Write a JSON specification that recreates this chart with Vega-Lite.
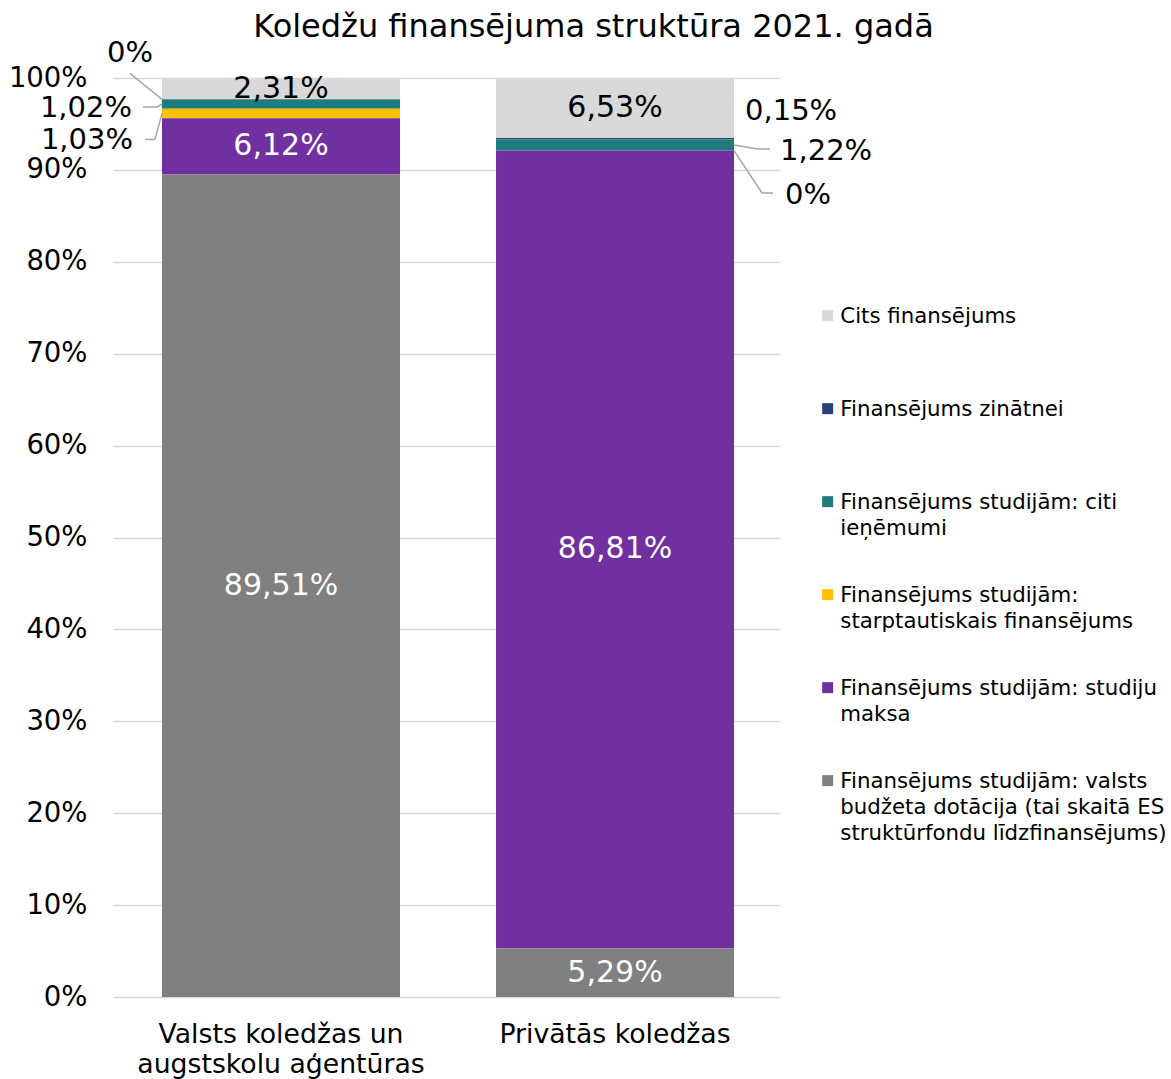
{
  "$schema": "https://vega.github.io/schema/vega-lite/v6.json",
  "width": 667,
  "height": 919,
  "autosize": {"type": "none"},
  "padding": {"left": 113, "top": 78, "right": 391, "bottom": 82},
  "background": "white",
  "title": {"text": "Koledžu finansējuma struktūra 2021. gadā", "fontSize": 32, "font": "DejaVu Sans", "fontWeight": "normal", "color": "#000000", "anchor": "middle", "frame": "group", "dx": 147, "dy": 13, "offset": 8},
  "data": {
    "values": [
      {"group": "Valsts koledžas un augstskolu aģentūras", "cat": "Cits finansējums", "value": 0.0231},
      {"group": "Valsts koledžas un augstskolu aģentūras", "cat": "Finansējums zinātnei", "value": 0},
      {"group": "Valsts koledžas un augstskolu aģentūras", "cat": "Finansējums studijām: citi ieņēmumi", "value": 0.0102},
      {"group": "Valsts koledžas un augstskolu aģentūras", "cat": "Finansējums studijām: starptautiskais finansējums", "value": 0.0103},
      {"group": "Valsts koledžas un augstskolu aģentūras", "cat": "Finansējums studijām: studiju maksa", "value": 0.0612},
      {"group": "Valsts koledžas un augstskolu aģentūras", "cat": "Finansējums studijām: valsts budžeta dotācija (tai skaitā ES struktūrfondu līdzfinansējums)", "value": 0.8951},
      {"group": "Privātās koledžas", "cat": "Cits finansējums", "value": 0.0653},
      {"group": "Privātās koledžas", "cat": "Finansējums zinātnei", "value": 0.0015},
      {"group": "Privātās koledžas", "cat": "Finansējums studijām: citi ieņēmumi", "value": 0.0122},
      {"group": "Privātās koledžas", "cat": "Finansējums studijām: starptautiskais finansējums", "value": 0},
      {"group": "Privātās koledžas", "cat": "Finansējums studijām: studiju maksa", "value": 0.8681},
      {"group": "Privātās koledžas", "cat": "Finansējums studijām: valsts budžeta dotācija (tai skaitā ES struktūrfondu līdzfinansējums)", "value": 0.0529}
    ]
  },
  "transform": [
    {"calculate": "indexof(['Cits finansējums', 'Finansējums zinātnei', 'Finansējums studijām: citi ieņēmumi', 'Finansējums studijām: starptautiskais finansējums', 'Finansējums studijām: studiju maksa', 'Finansējums studijām: valsts budžeta dotācija (tai skaitā ES struktūrfondu līdzfinansējums)'], datum.cat)", "as": "ord"},
    {"stack": "value", "groupby": ["group"], "sort": [{"field": "ord", "order": "descending"}], "as": ["y0", "y1"]},
    {"calculate": "(datum.y0 + datum.y1) / 2", "as": "mid"}
  ],
  "encoding": {
    "x": {
      "field": "group", "type": "nominal", "sort": null, "title": null,
      "scale": {"paddingInner": 0.2874, "paddingOuter": 0.1422, "align": 0.516},
      "axis": {
        "domain": false, "ticks": false, "tickSize": 0, "labelAngle": 0,
        "labelFont": "DejaVu Sans", "labelFontSize": 26.7, "labelColor": "#000000",
        "labelLineHeight": 30, "labelPadding": 24, "labelLimit": 600, "labelBaseline": "top",
        "labelExpr": "datum.label == 'Valsts koledžas un augstskolu aģentūras' ? ['Valsts koledžas un', 'augstskolu aģentūras'] : datum.label"
      }
    }
  },
  "layer": [
    {
      "mark": {"type": "bar"},
      "encoding": {
        "y": {
          "field": "y1", "type": "quantitative", "title": null,
          "scale": {"domain": [0, 1]},
          "axis": {
            "values": [0, 0.1, 0.2, 0.3, 0.4, 0.5, 0.6, 0.7, 0.8, 0.9, 1],
            "format": ".0%", "domain": false, "ticks": false, "tickSize": 0,
            "labelFont": "DejaVu Sans", "labelFontSize": 27.5, "labelColor": "#000000", "labelPadding": 26,
            "grid": true, "gridColor": "#D9D9D9", "gridWidth": 1.3
          }
        },
        "y2": {"field": "y0"},
        "color": {
          "field": "cat", "type": "nominal",
          "scale": {
            "domain": ["Cits finansējums", "Finansējums zinātnei", "Finansējums studijām: citi ieņēmumi", "Finansējums studijām: starptautiskais finansējums", "Finansējums studijām: studiju maksa", "Finansējums studijām: valsts budžeta dotācija (tai skaitā ES struktūrfondu līdzfinansējums)"],
            "range": ["#D9D9D9", "#264478", "#1E7B7E", "#FFC000", "#7030A0", "#808080"]
          },
          "legend": {
            "orient": "none", "legendX": 704, "legendY": 227, "title": null, "padding": 0,
            "symbolType": "square", "symbolSize": 121, "symbolStrokeWidth": 0,
            "labelFont": "DejaVu Sans", "labelFontSize": 21.3, "labelColor": "#000000",
            "labelLimit": 600, "labelOffset": 2, "labelBaseline": "alphabetic", "rowPadding": 19,
            "labelExpr": "datum.label == 'Finansējums studijām: citi ieņēmumi' ? ['Finansējums studijām: citi', 'ieņēmumi', ''] : datum.label == 'Finansējums studijām: starptautiskais finansējums' ? ['Finansējums studijām:', 'starptautiskais finansējums', ''] : datum.label == 'Finansējums studijām: studiju maksa' ? ['Finansējums studijām: studiju', 'maksa', ''] : datum.label == 'Finansējums studijām: valsts budžeta dotācija (tai skaitā ES struktūrfondu līdzfinansējums)' ? ['Finansējums studijām: valsts', 'budžeta dotācija (tai skaitā ES', 'struktūrfondu līdzfinansējums)'] : [datum.label, '', '']",
            "encoding": {"labels": {"dy": {"value": 7}, "lineHeight": {"value": 26}}}
          }
        }
      }
    },
    {
      "transform": [{"filter": "datum.ord >= 4"}],
      "mark": {"type": "text", "font": "DejaVu Sans", "fontSize": 30, "color": "#FFFFFF", "align": "center", "baseline": "middle"},
      "encoding": {"y": {"field": "mid", "type": "quantitative", "title": null}, "text": {"field": "value", "type": "quantitative", "format": ".2~%"}}
    },
    {
      "transform": [{"filter": "datum.ord == 0"}],
      "mark": {"type": "text", "font": "DejaVu Sans", "fontSize": 30, "color": "#000000", "align": "center", "baseline": "middle"},
      "encoding": {"y": {"field": "mid", "type": "quantitative", "title": null}, "text": {"field": "value", "type": "quantitative", "format": ".2~%"}}
    },
    {
      "transform": [{"filter": "datum.group != 'Privātās koledžas' && datum.ord == 1"}],
      "mark": {"type": "text", "font": "DejaVu Sans", "fontSize": 29, "color": "#000000", "align": "center", "baseline": "middle", "dx": -151, "dy": -46},
      "encoding": {"y": {"field": "mid", "type": "quantitative", "title": null}, "text": {"field": "value", "type": "quantitative", "format": ".2~%"}}
    },
    {
      "transform": [{"filter": "datum.group != 'Privātās koledžas' && datum.ord == 2"}],
      "mark": {"type": "text", "font": "DejaVu Sans", "fontSize": 29, "color": "#000000", "align": "right", "baseline": "middle", "dx": -149, "dy": 3.5},
      "encoding": {"y": {"field": "mid", "type": "quantitative", "title": null}, "text": {"field": "value", "type": "quantitative", "format": ".2~%"}}
    },
    {
      "transform": [{"filter": "datum.group != 'Privātās koledžas' && datum.ord == 3"}],
      "mark": {"type": "text", "font": "DejaVu Sans", "fontSize": 29, "color": "#000000", "align": "right", "baseline": "middle", "dx": -148, "dy": 27},
      "encoding": {"y": {"field": "mid", "type": "quantitative", "title": null}, "text": {"field": "value", "type": "quantitative", "format": ".2~%"}}
    },
    {
      "transform": [{"filter": "datum.group == 'Privātās koledžas' && datum.ord == 1"}],
      "mark": {"type": "text", "font": "DejaVu Sans", "fontSize": 29, "color": "#000000", "align": "left", "baseline": "middle", "dx": 130, "dy": -28},
      "encoding": {"y": {"field": "mid", "type": "quantitative", "title": null}, "text": {"field": "value", "type": "quantitative", "format": ".2~%"}}
    },
    {
      "transform": [{"filter": "datum.group == 'Privātās koledžas' && datum.ord == 2"}],
      "mark": {"type": "text", "font": "DejaVu Sans", "fontSize": 29, "color": "#000000", "align": "left", "baseline": "middle", "dx": 165, "dy": 6},
      "encoding": {"y": {"field": "mid", "type": "quantitative", "title": null}, "text": {"field": "value", "type": "quantitative", "format": ".2~%"}}
    },
    {
      "transform": [{"filter": "datum.group == 'Privātās koledžas' && datum.ord == 3"}],
      "mark": {"type": "text", "font": "DejaVu Sans", "fontSize": 29, "color": "#000000", "align": "left", "baseline": "middle", "dx": 170, "dy": 44},
      "encoding": {"y": {"field": "mid", "type": "quantitative", "title": null}, "text": {"field": "value", "type": "quantitative", "format": ".2~%"}}
    },
    {
      "transform": [{"filter": "datum.group != 'Privātās koledžas' && datum.ord == 1"}],
      "mark": {"type": "rule", "color": "#A6A6A6", "strokeWidth": 1.5, "xOffset": -119, "x2Offset": -151, "y2Offset": -26},
      "encoding": {"x2": {"field": "group"}, "y": {"field": "mid", "type": "quantitative", "title": null}, "y2": {"field": "mid"}}
    },
    {
      "transform": [{"filter": "datum.group != 'Privātās koledžas' && datum.ord == 2"}],
      "mark": {"type": "rule", "color": "#A6A6A6", "strokeWidth": 1.5, "xOffset": -119, "x2Offset": -124, "y2Offset": 3},
      "encoding": {"x2": {"field": "group"}, "y": {"field": "mid", "type": "quantitative", "title": null}, "y2": {"field": "mid"}}
    },
    {
      "transform": [{"filter": "datum.group != 'Privātās koledžas' && datum.ord == 2"}],
      "mark": {"type": "rule", "color": "#A6A6A6", "strokeWidth": 1.5, "xOffset": -124, "x2Offset": -138, "yOffset": 3, "y2Offset": 3},
      "encoding": {"x2": {"field": "group"}, "y": {"field": "mid", "type": "quantitative", "title": null}, "y2": {"field": "mid"}}
    },
    {
      "transform": [{"filter": "datum.group != 'Privātās koledžas' && datum.ord == 3"}],
      "mark": {"type": "rule", "color": "#A6A6A6", "strokeWidth": 1.5, "xOffset": -119, "x2Offset": -126, "y2Offset": 26},
      "encoding": {"x2": {"field": "group"}, "y": {"field": "mid", "type": "quantitative", "title": null}, "y2": {"field": "mid"}}
    },
    {
      "transform": [{"filter": "datum.group != 'Privātās koledžas' && datum.ord == 3"}],
      "mark": {"type": "rule", "color": "#A6A6A6", "strokeWidth": 1.5, "xOffset": -126, "x2Offset": -136, "yOffset": 26, "y2Offset": 26},
      "encoding": {"x2": {"field": "group"}, "y": {"field": "mid", "type": "quantitative", "title": null}, "y2": {"field": "mid"}}
    },
    {
      "transform": [{"filter": "datum.group == 'Privātās koledžas' && datum.ord == 2"}],
      "mark": {"type": "rule", "color": "#A6A6A6", "strokeWidth": 1.5, "xOffset": 119, "x2Offset": 143, "y2Offset": 4},
      "encoding": {"x2": {"field": "group"}, "y": {"field": "mid", "type": "quantitative", "title": null}, "y2": {"field": "mid"}}
    },
    {
      "transform": [{"filter": "datum.group == 'Privātās koledžas' && datum.ord == 2"}],
      "mark": {"type": "rule", "color": "#A6A6A6", "strokeWidth": 1.5, "xOffset": 143, "x2Offset": 155, "yOffset": 4, "y2Offset": 4},
      "encoding": {"x2": {"field": "group"}, "y": {"field": "mid", "type": "quantitative", "title": null}, "y2": {"field": "mid"}}
    },
    {
      "transform": [{"filter": "datum.group == 'Privātās koledžas' && datum.ord == 3"}],
      "mark": {"type": "rule", "color": "#A6A6A6", "strokeWidth": 1.5, "xOffset": 119, "x2Offset": 147, "y2Offset": 42.4},
      "encoding": {"x2": {"field": "group"}, "y": {"field": "mid", "type": "quantitative", "title": null}, "y2": {"field": "mid"}}
    },
    {
      "transform": [{"filter": "datum.group == 'Privātās koledžas' && datum.ord == 3"}],
      "mark": {"type": "rule", "color": "#A6A6A6", "strokeWidth": 1.5, "xOffset": 147, "x2Offset": 158, "yOffset": 42.4, "y2Offset": 42.4},
      "encoding": {"x2": {"field": "group"}, "y": {"field": "mid", "type": "quantitative", "title": null}, "y2": {"field": "mid"}}
    }
  ],
  "config": {
    "view": {"stroke": null},
    "font": "DejaVu Sans",
    "locale": {"number": {"decimal": ",", "thousands": " ", "grouping": [3], "currency": ["", "€"]}},
    "style": {"guide-label": {"lineHeight": 26}}
  }
}
